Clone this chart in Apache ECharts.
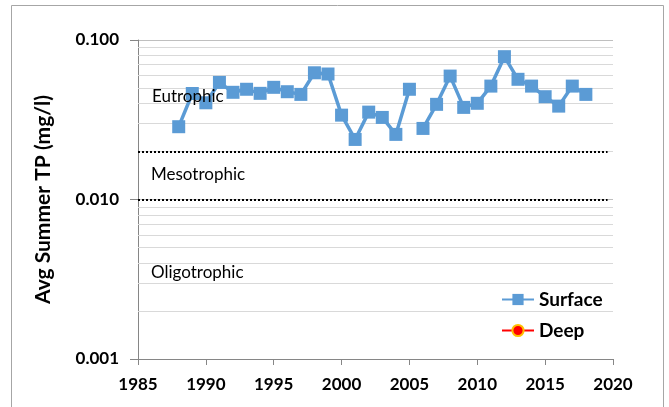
<!DOCTYPE html>
<html>
<head>
<meta charset="utf-8">
<script src="https://cdn.jsdelivr.net/npm/echarts@6/dist/echarts.min.js"></script>
<style>
    html, body { margin: 0; padding: 0; background: #fff; }
    #chart { width: 669px; height: 407px; }
</style>
</head>
<body>
<div id="chart"></div>
<script>
// Surface TP, 1988-2005 (line breaks before 2006)
let earlyYears = [1988, 1989, 1990, 1991, 1992, 1993, 1994, 1995, 1996, 1997, 1998, 1999, 2000, 2001, 2002, 2003, 2004, 2005];
let earlyTP = [0.0286, 0.0462, 0.0404, 0.0542, 0.0470, 0.0491, 0.0463, 0.0505, 0.0474, 0.0456, 0.0623, 0.0612, 0.0338, 0.0238, 0.0353, 0.0327, 0.0256, 0.0491];
// Surface TP, 2006-2018
let lateYears = [2006, 2007, 2008, 2009, 2010, 2011, 2012, 2013, 2014, 2015, 2016, 2017, 2018];
let lateTP = [0.0279, 0.0395, 0.0594, 0.0378, 0.0401, 0.0514, 0.0786, 0.0567, 0.0514, 0.0441, 0.0385, 0.0514, 0.0456];
// Deep has no values, only a legend entry
let deepYears = [];
let deepTP = [];

let trophicBounds = [0.02, 0.01];
let zoneLabels = ['Eutrophic', 'Mesotrophic', 'Oligotrophic'];
let yTicks = [0.001, 0.01, 0.1];
let xTicks = [1985, 1990, 1995, 2000, 2005, 2010, 2015, 2020];

let font = 'Lato, "Open Sans", sans-serif';
let xMin = xTicks[0];
let xMax = xTicks[xTicks.length - 1];

let zip = function(xs, ys) {
    return xs.map(function(x, i) { return [x, ys[i]]; });
};

// minor log gridlines at 2..9 x 10^k
let minorLines = [];
for (let k = 0; k < yTicks.length - 1; k++) {
    for (let m = 2; m <= 9; m++) {
        let v = +(m * yTicks[k]).toPrecision(3);
        minorLines.push([{ coord: [xMin, v] }, { coord: [xMax, v] }]);
    }
}

let surfaceStyle = {
    type: 'line',
    name: 'Surface',
    symbol: 'rect',
    symbolSize: 13,
    color: '#5b9bd5',
    lineStyle: { width: 3.5, color: '#5b9bd5' },
    itemStyle: { color: '#5b9bd5' },
    z: 5
};

let myChart = echarts.init(document.getElementById('chart'), null, { renderer: 'canvas' });

let options = {
    animation: false,
    backgroundColor: '#fff',
    textStyle: { fontFamily: font },
    grid: { left: 138, right: 56, top: 40, bottom: 48, containLabel: false },
    legend: {
        orient: 'vertical',
        left: 496,
        top: 285,
        itemWidth: 32,
        itemHeight: 14,
        itemGap: 12,
        data: ['Surface', 'Deep'],
        textStyle: { fontFamily: font, fontSize: 19, fontWeight: 'bold', color: '#000' }
    },
    xAxis: {
        type: 'value',
        min: xMin,
        max: xMax,
        interval: 5,
        axisLine: { show: true, lineStyle: { color: '#868686', width: 1 } },
        axisTick: { show: true, length: 6, lineStyle: { color: '#868686' } },
        splitLine: { show: false },
        axisLabel: {
            margin: 17,
            fontFamily: font,
            fontSize: 17,
            fontWeight: 'bold',
            color: '#000',
            formatter: function(v) { return String(v); }
        }
    },
    yAxis: {
        type: 'log',
        logBase: 10,
        min: yTicks[0],
        max: yTicks[yTicks.length - 1],
        name: 'Avg Summer TP (mg/l)',
        nameLocation: 'middle',
        nameGap: 84,
        nameTextStyle: { fontFamily: font, fontSize: 21, fontWeight: 'bold', color: '#000' },
        axisLine: { show: true, lineStyle: { color: '#868686', width: 1 } },
        axisTick: { show: true, length: 8, lineStyle: { color: '#868686' } },
        splitLine: { show: true, lineStyle: { color: '#bfbfbf', width: 1 } },
        axisLabel: {
            margin: 19,
            fontFamily: font,
            fontSize: 17,
            fontWeight: 'bold',
            color: '#000',
            formatter: function(v) { return v.toFixed(3); }
        }
    },
    graphic: [
        {
            type: 'rect',
            z: -10,
            silent: true,
            shape: { x: 11.5, y: 5.5, width: 652, height: 430 },
            style: { fill: 'none', stroke: '#a6a6a6', lineWidth: 1 }
        },
        {
            type: 'text', z: 100, silent: true,
            style: { x: 152, y: 97, text: zoneLabels[0], font: '17px ' + font, fill: '#000', verticalAlign: 'middle' }
        },
        {
            type: 'text', z: 100, silent: true,
            style: { x: 151, y: 175, text: zoneLabels[1], font: '17px ' + font, fill: '#000', verticalAlign: 'middle' }
        },
        {
            type: 'text', z: 100, silent: true,
            style: { x: 151, y: 273, text: zoneLabels[2], font: '17px ' + font, fill: '#000', verticalAlign: 'middle' }
        }
    ],
    series: [
        // gridlines and trophic boundaries
        {
            type: 'line',
            name: 'grid',
            data: [],
            silent: true,
            z: 1,
            markLine: {
                silent: true,
                symbol: 'none',
                label: { show: false },
                lineStyle: { color: '#d9d9d9', width: 1, type: 'solid' },
                data: minorLines
            }
        },
        {
            type: 'line',
            name: 'bounds',
            data: [],
            silent: true,
            z: 3,
            markLine: {
                silent: true,
                symbol: 'none',
                label: { show: false },
                lineStyle: { color: '#000', width: 2, type: [2, 2] },
                data: trophicBounds.map(function(b) {
                    return [{ coord: [xMin, b] }, { coord: [2019.6, b] }];
                })
            }
        },
        Object.assign({}, surfaceStyle, { data: zip(earlyYears, earlyTP) }),
        Object.assign({}, surfaceStyle, { data: zip(lateYears, lateTP) }),
        {
            type: 'line',
            name: 'Deep',
            symbol: 'circle',
            symbolSize: 10,
            color: '#ff0000',
            lineStyle: { width: 3.5, color: '#ff0000' },
            itemStyle: { color: '#ff0000', borderColor: '#ffc000', borderWidth: 1 },
            data: zip(deepYears, deepTP)
        }
    ]
};

myChart.setOption(options);
</script>
</body>
</html>
